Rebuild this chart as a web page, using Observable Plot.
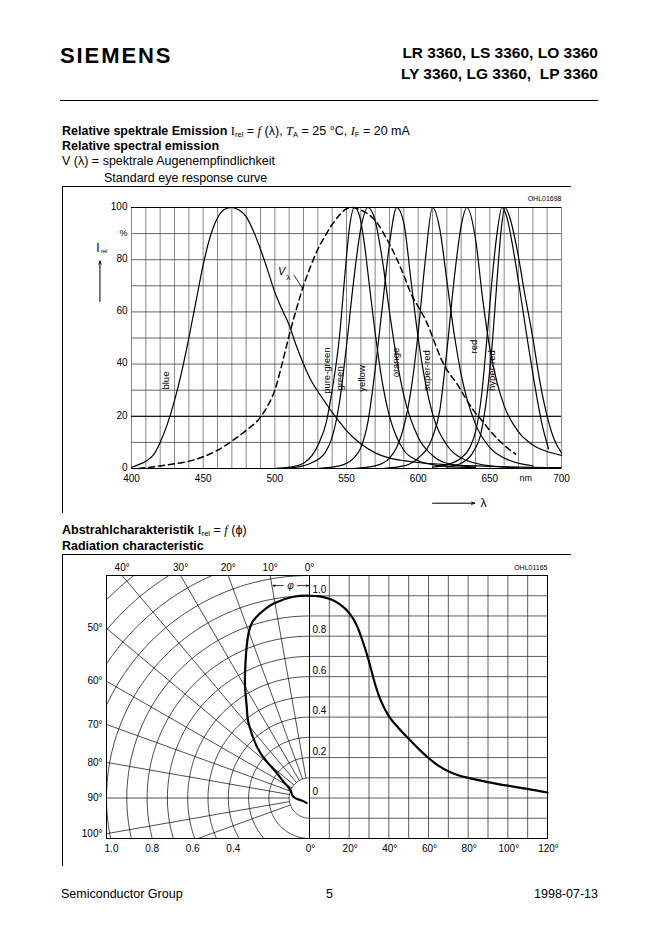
<!DOCTYPE html>
<html><head><meta charset="utf-8">
<script src="https://cdn.jsdelivr.net/npm/d3@7"></script>
<script src="https://cdn.jsdelivr.net/npm/@observablehq/plot@0.6"></script>
<style>
body{margin:0;background:#fff;}
#page{position:relative;width:662px;height:936px;overflow:hidden;font-family:"Liberation Sans",Arial,Helvetica,sans-serif;color:#000;}
.abs{position:absolute;white-space:nowrap;line-height:1;}
.m{font-family:"Liberation Serif","Times New Roman",serif;}
sub{font-size:0.6em;vertical-align:-0.25em;line-height:0;font-family:"Liberation Sans",Arial,sans-serif;font-style:normal;font-weight:normal;}
.plotbox{position:absolute;}
</style></head><body><div id="page"></div>
<script>
// ---------------- data: relative spectral emission ----------------
const nmTicks = [400, 450, 500, 550, 600, 650, 700];
const pctTicks = [0, 20, 40, 60, 80, 100];
const nmGrid = d3.range(400, 701, 10);
const pctGrid = d3.range(0, 101, 10);

const vLambda = [[405,0],[410,0.3],[420,1],[430,1.8],[440,2.8],[450,4.5],[460,7],[470,10.5],[480,14.6],[490,19.7],[495,24],[500,30],[505,40],[510,51],[515,61],[520,70],[525,77.5],[530,84],[535,89],[540,93.5],[545,97],[550,99.5],[554,100],[560,99],[565,97.5],[571,94.4],[578,88],[585,80.4],[590,74],[595,67],[600,62],[606,56],[612,47.5],[616,42],[621,37],[627,32.5],[633,27],[639,22],[645,18],[650,14.6],[656,11],[662,8],[668,5.5]];
const blue = [[400,0.5],[405,1.5],[410,2.8],[415,5],[420,10],[425,17],[430,26],[435,37],[440,50],[445,64],[450,78],[455,89],[460,96],[465,99.3],[470,100],[475,99],[480,96.5],[485,91],[490,84],[495,76],[500,67.5],[505,61],[510,55],[515,47],[520,40],[525,34],[530,29.5],[535,25.5],[540,21.5],[545,18],[550,14.5],[555,11.8],[560,9.5],[570,6],[580,4],[590,3],[600,2.3],[620,1.5],[650,0.8],[700,0.3]];
const pureGreen = [[500,0],[510,0.5],[520,2],[526,5],[531,10],[536,18],[540,30],[545,50],[549,75],[552,92],[555.5,100],[559,97],[562,88],[566,70],[570,52],[575,33],[580,20],[585,12],[590,7],[600,3],[610,1.5],[620,0.8],[640,0.3]];
const green = [[505,0],[515,0.5],[525,2],[535,6],[540,12],[545,25],[550,47],[555,72],[560,92],[565,100],[570,95],[575,80],[580,60],[585,42],[590,28],[600,12],[610,5],[620,2],[640,0.5]];
const yellow = [[530,0],[545,1],[555,4],[560,8],[565,18],[570,38],[575,62],[580,86],[585,100],[590,94],[595,72],[600,50],[605,33],[610,21],[620,9],[630,4],[650,1],[670,0.3]];
const orange = [[555,0],[570,1],[580,4],[585,8],[590,16],[595,30],[600,52],[605,80],[610,100],[615,92],[620,72],[625,52],[630,36],[640,17],[650,8],[660,4],[680,1]];
const superRed = [[575,0],[590,1],[600,4],[610,12],[615,22],[620,45],[625,72],[630,93],[634,100],[640,88],[645,65],[650,46],[655,33],[660,24],[670,14],[680,9],[690,6.5],[700,5]];
const red = [[610,0.5],[620,1.5],[630,4],[636,8],[640,14],[644,27],[648,50],[652,75],[655,90],[658.5,100],[662,96],[666,85],[671,68],[676,50],[681,33],[686,18],[691,7.5]];
const hyperRed = [[620,0.5],[630,2],[638,6],[644,14],[648,28],[652,50],[655,72],[658,92],[660.5,100],[664,96],[669,84],[674,68],[680,50],[685,33],[690,20],[695,11],[700,6]];
const ledCurves = [blue, pureGreen, green, yellow, orange, superRed, red, hyperRed];
const ledNames = ["blue", "pure-green", "green", "yellow", "orange", "super-red", "red", "hyper-red"];
const ledLabelNm = [424, 536.5, 545.3, 561, 584.2, 606.3, 638.6, 651.6];
const ledLabelPct = [33.7, 37.5, 34.5, 34.5, 40.6, 37.5, 46.7, 37.5];

// ---------------- data: radiation characteristic ----------------
// right-hand (cartesian) curve
const angleDeg = [0,5,10,15,20,24,27,30,33,36,40,45,50,55,60,65,70,75,80,90,100,110,120];
const intensity = [1.0,0.997,0.985,0.96,0.915,0.85,0.77,0.675,0.565,0.48,0.405,0.345,0.293,0.243,0.198,0.16,0.132,0.113,0.1,0.079,0.061,0.045,0.027];
// left-hand (polar) curve
const polarAngle = [0,4.5,10.4,14.9,18.4,21.9,26.6,30.7,35.3,39.1,45.6,49.5,52.7,58,67,85.7,102,120,150];
const polarIntensity = [1.0,0.998,0.978,0.945,0.907,0.825,0.708,0.62,0.533,0.476,0.363,0.276,0.2,0.15,0.103,0.08,0.047,0.033,0.028];
const polarRadii = d3.range(0.1, 1.55, 0.1);
const polarSpokes = [10,20,30,40,50,60,70,80,90,100,110];
const topAngleLabels = [40,30,20,10];
const leftAngleLabels = [50,60,70,80,90,100];
const radiusLabels = [1.0, 0.8, 0.6, 0.4];
const angleTicks = [0,20,40,60,80,100,120];
const intensityTicks = [1.0,0.8,0.6,0.4,0.2,0];
const angleGrid = d3.range(0, 121, 10);
const intensityGrid = d3.range(-2, 12, 1).map(v => v / 10);

// ---------------- page helpers ----------------
const page = document.getElementById("page");
function addText(html, style) {
  const d = document.createElement("div");
  d.className = "abs"; d.innerHTML = html;
  Object.assign(d.style, style); page.appendChild(d); return d;
}
function addBox(style) {
  const d = document.createElement("div");
  d.style.position = "absolute"; Object.assign(d.style, style); page.appendChild(d); return d;
}
function place(node, left, top) {
  const w = document.createElement("div");
  w.className = "plotbox"; w.style.left = left + "px"; w.style.top = top + "px";
  w.appendChild(node); page.appendChild(w);
}

// header
addText("SIEMENS", {left:"60px", top:"45px", fontSize:"22px", fontWeight:"bold", letterSpacing:"1.9px"});
addText("LR 3360, LS 3360, LO 3360", {right:"64px", top:"45px", fontSize:"15.5px", fontWeight:"bold"});
addText("LY 3360, LG 3360,&nbsp; LP 3360", {right:"64px", top:"66px", fontSize:"15.5px", fontWeight:"bold"});
addBox({left:"60px", top:"99.5px", width:"538px", height:"1.3px", background:"#000"});

// section 1 titles
const fs = "12.5px";
addText('<b>Relative spektrale Emission</b> <span class="m">I</span><sub>rel</sub> = <i class="m">f</i> (λ), <i class="m">T</i><sub>A</sub> = 25 °C, <i class="m">I</i><sub>F</sub> = 20 mA', {left:"62px", top:"125px", fontSize:fs});
addText('<b>Relative spectral emission</b>', {left:"62px", top:"140px", fontSize:fs});
addText('V (λ) = spektrale Augenempfindlichkeit', {left:"62px", top:"155px", fontSize:fs});
addText('Standard eye response curve', {left:"104px", top:"172px", fontSize:fs});
addBox({left:"62px", top:"186px", width:"508px", height:"326px", borderTop:"1px solid #000", borderLeft:"1px solid #000"});

// section 2 titles
addText('<b>Abstrahlcharakteristik</b> <span class="m">I</span><sub>rel</sub> = <i class="m">f</i> (ϕ)', {left:"62px", top:"524px", fontSize:fs});
addText('<b>Radiation characteristic</b>', {left:"62px", top:"540px", fontSize:fs});
addBox({left:"62px", top:"554px", width:"508px", height:"311px", borderTop:"1px solid #000", borderLeft:"1px solid #000"});

// footer
addText("Semiconductor Group", {left:"61px", top:"888px", fontSize:fs});
addText("5", {left:"326px", top:"888px", fontSize:fs});
addText("1998-07-13", {right:"64px", top:"888px", fontSize:fs});

// ---------------- spectral plot ----------------
const font = "Liberation Sans Narrow, Liberation Sans, Arial, sans-serif";
const ledMarks = ledCurves.map(c => Plot.line(c, {x: d => d[0], y: d => d[1], curve: "monotone-x", stroke: "#000", strokeWidth: 1.2}));
const spec = Plot.plot({
  width: 508, height: 326,
  marginLeft: 69, marginRight: 9, marginTop: 21, marginBottom: 44,
  x: {domain: [400, 700], axis: null},
  y: {domain: [0, 100], axis: null},
  style: {overflow: "visible", background: "transparent", fontFamily: font, fontSize: "10px", color: "#000"},
  marks: [
    Plot.ruleX(nmGrid, {stroke: "#6a6a6a", strokeWidth: 0.8}),
    Plot.ruleY(pctGrid, {stroke: "#555", strokeWidth: 0.9}),
    Plot.ruleY([0, 20, 100], {stroke: "#000", strokeWidth: 1}),
    ...ledMarks,
    Plot.line(vLambda, {x: d => d[0], y: d => d[1], curve: "monotone-x", stroke: "#000", strokeWidth: 1.5, strokeDasharray: "6,4"}),
    Plot.text(ledNames, {x: (d, i) => ledLabelNm[i], y: (d, i) => ledLabelPct[i], text: d => d, rotate: -90, fontSize: 9.5, fill: "#000"}),
    Plot.text(nmTicks, {x: d => d, y: 0, text: d => String(d), dy: 10, fontSize: 10, fill: "#000"}),
    Plot.text(pctTicks, {x: 400, y: d => d, text: d => String(d), dx: -4, dy: -1, textAnchor: "end", fontSize: 10, fill: "#000"}),
    Plot.text(["%"], {x: 400, y: 90, text: d => d, dx: -8, fontSize: 9, fill: "#000"}),
    Plot.text(["nm"], {x: 675, y: 0, text: d => d, dy: 10, fontSize: 9, fill: "#000"}),
    Plot.text(["OHL01698"], {x: 700, y: 100, text: d => d, dy: -9, textAnchor: "end", fontSize: 7, fill: "#000"}),
    // V lambda label + leader
    Plot.text(["V"], {x: 504.7, y: 75.5, text: d => d, fontSize: 11, fontStyle: "italic", fill: "#000"}),
    Plot.text(["λ"], {x: 509.4, y: 73.3, text: d => d, fontSize: 8, fill: "#000"}),
    Plot.link([0], {x1: 513.2, y1: 74.2, x2: 519.8, y2: 68.6, stroke: "#000", strokeWidth: 0.8}),
    // axis arrows
    Plot.arrow([0], {x1: 610, y1: -13.3, x2: 639.5, y2: -13.3, stroke: "#000", strokeWidth: 1, headLength: 5, headAngle: 40}),
    Plot.text(["λ"], {x: 645.6, y: -13.3, text: d => d, fontSize: 12, fill: "#000"}),
    Plot.arrow([0], {x1: 378, y1: 64, x2: 378, y2: 79.5, stroke: "#000", strokeWidth: 1, headLength: 5, headAngle: 40}),
    Plot.text(["I"], {x: 376.6, y: 84.6, text: d => d, fontSize: 12, fill: "#000"}),
    Plot.text(["rel"], {x: 380.8, y: 83.2, text: d => d, fontSize: 6, fill: "#000"})
  ]
});
place(spec, 62, 186);

// ---------------- polar plot (left) ----------------
const rad = Math.PI / 180;
const circlePts = polarRadii.flatMap(r => d3.range(0, 181, 2).map(t => ({r, x: -r * Math.sin(t * rad), y: r * Math.cos(t * rad)})));
const spokes = polarSpokes.map(a => ({a, x1: -0.1 * Math.sin(a * rad), y1: 0.1 * Math.cos(a * rad), x2: -2 * Math.sin(a * rad), y2: 2 * Math.cos(a * rad)}));
const polarCurve = polarAngle.map((a, i) => ({x: -polarIntensity[i] * Math.sin(a * rad), y: polarIntensity[i] * Math.cos(a * rad)}));
const polar = Plot.plot({
  width: 247, height: 312,
  marginLeft: 44, marginRight: 0, marginTop: 22, marginBottom: 27,
  x: {domain: [-1, 0], axis: null},
  y: {domain: [-0.2, 1.1], axis: null},
  style: {overflow: "visible", background: "transparent", fontFamily: font, fontSize: "10px", color: "#000"},
  marks: [
    Plot.line(circlePts, {x: "x", y: "y", z: "r", stroke: "#000", strokeWidth: 0.7, clip: true}),
    Plot.link(spokes, {x1: "x1", y1: "y1", x2: "x2", y2: "y2", stroke: "#000", strokeWidth: 0.7, clip: true}),
    Plot.frame({stroke: "#000", strokeWidth: 1}),
    Plot.line(polarCurve, {x: "x", y: "y", curve: "natural", stroke: "#000", strokeWidth: 2.2}),
    Plot.text(topAngleLabels, {x: d => -1.1 * Math.tan(d * rad), y: 1.1, dy: -8, text: d => d + "°", fontSize: 10, fill: "#000"}),
    Plot.text([0], {x: 0, y: 1.1, dy: -8, text: d => d + "°", fontSize: 10, fill: "#000"}),
    Plot.text(leftAngleLabels, {x: -1, y: d => 1 / Math.tan(d * rad), dx: -4, textAnchor: "end", text: d => d + "°", fontSize: 10, fill: "#000"}),
    Plot.text(radiusLabels, {x: d => -d, y: -0.2, dy: 10, dx: 5, text: d => d.toFixed(1), fontSize: 10, fill: "#000"}),
    Plot.arrow([0], {x1: -0.13, y1: 1.05, x2: -0.18, y2: 1.05, stroke: "#000", strokeWidth: 0.8, headLength: 4, headAngle: 40}),
    Plot.arrow([0], {x1: -0.06, y1: 1.05, x2: -0.005, y2: 1.05, stroke: "#000", strokeWidth: 0.8, headLength: 4, headAngle: 40}),
    Plot.text(["φ"], {x: -0.093, y: 1.05, text: d => d, fontSize: 10, fontStyle: "italic", fill: "#000"})
  ]
});
place(polar, 62, 553);

// ---------------- cartesian plot (right) ----------------
const cart = Plot.plot({
  width: 281, height: 312,
  marginLeft: 20, marginRight: 23, marginTop: 22, marginBottom: 27,
  x: {domain: [0, 120], axis: null},
  y: {domain: [-0.2, 1.1], axis: null},
  style: {overflow: "visible", background: "transparent", fontFamily: font, fontSize: "10px", color: "#000"},
  marks: [
    Plot.ruleX(angleGrid, {stroke: "#333", strokeWidth: 0.8}),
    Plot.ruleY(intensityGrid, {stroke: "#333", strokeWidth: 0.8}),
    Plot.frame({stroke: "#000", strokeWidth: 1}),
    Plot.line(angleDeg, {x: d => d, y: (d, i) => intensity[i], curve: "monotone-x", stroke: "#000", strokeWidth: 2.2}),
    Plot.text(intensityTicks, {x: 0, y: d => d, dx: 3, dy: -6, textAnchor: "start", text: d => d === 0 ? "0" : d.toFixed(1), fontSize: 10, fill: "#000"}),
    Plot.text(angleTicks, {x: d => d, y: -0.2, dy: 10, dx: 1, text: d => d + "°", fontSize: 10, fill: "#000"}),
    Plot.text(["OHL01165"], {x: 120, y: 1.1, dy: -8, textAnchor: "end", text: d => d, fontSize: 7, fill: "#000"})
  ]
});
place(cart, 289, 553);
</script></body></html>
